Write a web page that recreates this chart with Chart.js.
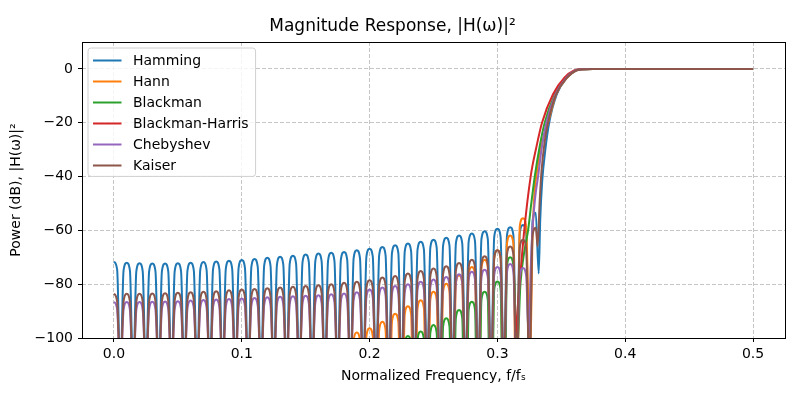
<!DOCTYPE html>
<html>
<head>
<meta charset="utf-8">
<title>Magnitude Response</title>
<script src="https://cdn.jsdelivr.net/npm/chart.js@4.4.0/dist/chart.umd.min.js"></script>
<style>
  html, body { margin: 0; padding: 0; background: #fff; }
</style>
</head>
<body>
<canvas id="responseChart" width="800" height="400"></canvas>
<script>
// window names / colours (matplotlib tab10)
const windowNames = ['Hamming', 'Hann', 'Blackman', 'Blackman-Harris', 'Chebyshev', 'Kaiser'];
const windowColors = ['#1f77b4', '#ff7f0e', '#2ca02c', '#d62728', '#9467bd', '#8c564b'];

const xTicks = [0, 0.1, 0.2, 0.3, 0.4, 0.5];
const yTicks = [-100, -80, -60, -40, -20, 0];

// stopband frequency grid (peak, shoulder, null, shoulder ...)
const freqGrid = [
  0, 0.0025, 0.005, 0.0075, 0.01, 0.0125, 0.015, 0.0175,
  0.02, 0.0225, 0.025, 0.0275, 0.03, 0.0325, 0.035, 0.0375,
  0.04, 0.0425, 0.045, 0.0475, 0.05, 0.0525, 0.055, 0.0575,
  0.06, 0.0625, 0.065, 0.0675, 0.07, 0.0725, 0.075, 0.0775,
  0.08, 0.0825, 0.085, 0.0875, 0.09, 0.0925, 0.095, 0.0975,
  0.1, 0.1025, 0.105, 0.1075, 0.11, 0.1125, 0.115, 0.1175,
  0.12, 0.1225, 0.125, 0.1275, 0.13, 0.1325, 0.135, 0.1375,
  0.14, 0.1425, 0.145, 0.1475, 0.15, 0.1525, 0.155, 0.1575,
  0.16, 0.1625, 0.165, 0.1675, 0.17, 0.1725, 0.175, 0.1775,
  0.18, 0.1825, 0.185, 0.1875, 0.19, 0.1925, 0.195, 0.1975,
  0.2, 0.2025, 0.205, 0.2075, 0.21, 0.2125, 0.215, 0.2175,
  0.22, 0.2225, 0.225, 0.2275, 0.23, 0.2325, 0.235, 0.2375,
  0.24, 0.2425, 0.245, 0.2475, 0.25, 0.2525, 0.255, 0.2575,
  0.26, 0.2625, 0.265, 0.2675, 0.27, 0.2725, 0.275, 0.2775,
  0.28, 0.2825, 0.285, 0.2875, 0.29, 0.2925, 0.295, 0.2975,
  0.3, 0.3025, 0.305, 0.3075, 0.31, 0.3125, 0.315, 0.3175,
  0.32, 0.3225, 0.325, 0.3275, 0.33
];

// Hamming
const hammingStop = [
  -71.6, -74.6, -115, -75.0, -72.0, -75.0, -115, -75.2,
  -72.2, -75.2, -115, -75.3, -72.3, -75.3, -115, -75.3,
  -72.3, -75.3, -115, -75.2, -72.2, -75.2, -115, -75.0,
  -72.0, -75.0, -115, -74.8, -71.8, -74.8, -115, -74.6,
  -71.6, -74.6, -115, -74.3, -71.3, -74.3, -115, -74.0,
  -71.0, -74.0, -115, -73.6, -70.6, -73.6, -115, -73.2,
  -70.2, -73.2, -115, -72.8, -69.8, -72.8, -115, -72.4,
  -69.4, -72.4, -115, -72.0, -69.0, -72.0, -115, -71.6,
  -68.6, -71.6, -115, -71.3, -68.3, -71.3, -115, -71.0,
  -68.0, -71.0, -115, -70.4, -67.4, -70.4, -115, -69.8,
  -66.8, -69.8, -115, -69.2, -66.2, -69.2, -115, -68.5,
  -65.5, -68.5, -115, -67.9, -64.9, -67.9, -115, -67.2,
  -64.2, -67.2, -115, -66.5, -63.5, -66.5, -115, -65.7,
  -62.7, -65.7, -115, -64.9, -61.9, -64.9, -115, -64.2,
  -61.2, -64.2, -115, -63.3, -60.3, -63.3, -115, -62.4,
  -59.4, -62.4, -115, -61.8, -58.8, -61.8, -115, -61.0,
  -58.0, -61.0, -115, -56.5,
  -53.5
];
const hammingTransFreq = [0.3323, 0.3335, 0.335, 0.3375, 0.3405, 0.3465, 0.3545, 0.3615, 0.368, 0.375, 0.4, 0.45, 0.5];
const hammingTransDb = [-76, -56, -42, -30, -20, -9.4, -3.2, -0.6, -0.1, 0, 0, 0, 0];

// Hann
const hannStop = [
  -130, -133, -150, -131, -128, -131, -150, -129,
  -126, -129, -150, -127, -124, -127, -150, -125,
  -122, -125, -150, -123, -120, -123, -150, -121.5,
  -118.5, -121.5, -150, -120, -117, -120, -150, -118.5,
  -115.5, -118.5, -150, -117, -114, -117, -150, -115.5,
  -112.5, -115.5, -150, -114, -111, -114, -150, -112.5,
  -109.5, -112.5, -150, -111, -108, -111, -150, -109.5,
  -106.5, -109.5, -150, -108, -105, -108, -150, -106.5,
  -103.5, -106.5, -150, -105, -102, -105, -150, -103.5,
  -100.5, -103.5, -150, -101, -98.0, -101, -150, -99.4,
  -96.4, -99.4, -150, -97, -94.0, -97, -150, -94,
  -91.0, -94, -150, -91.2, -88.2, -91.2, -150, -89,
  -86.0, -89, -150, -85.8, -82.8, -85.8, -150, -82.8,
  -79.8, -82.8, -150, -79.7, -76.7, -79.7, -150, -76.6,
  -73.6, -76.6, -150, -73.9, -70.9, -73.9, -150, -70.4,
  -67.4, -70.4, -150, -64.9, -61.9, -64.9, -150, -58.5,
  -55.5
];
const hannTransFreq = [0.3225, 0.3255, 0.3275, 0.329, 0.331, 0.3335, 0.3396, 0.346, 0.3545, 0.3615, 0.368, 0.375, 0.4, 0.45, 0.5];
const hannTransDb = [-58.5, -110, -62, -46, -38, -30, -20, -9.4, -3.2, -0.6, -0.1, 0, 0, 0, 0];

// Blackman
const blackmanStop = [
  -140, -143, -160, -142, -139, -142, -160, -140,
  -137, -140, -160, -138, -135, -138, -160, -136,
  -133, -136, -160, -134, -131, -134, -160, -132,
  -129, -132, -160, -130, -127, -130, -160, -128,
  -125, -128, -160, -126.5, -123.5, -126.5, -160, -125,
  -122, -125, -160, -123.5, -120.5, -123.5, -160, -122,
  -119, -122, -160, -120.5, -117.5, -120.5, -160, -119,
  -116, -119, -160, -117.5, -114.5, -117.5, -160, -116,
  -113, -116, -160, -114, -111, -114, -160, -112,
  -109, -112, -160, -110, -107, -110, -160, -108,
  -105, -108, -160, -106, -103, -106, -160, -104.2,
  -101.2, -104.2, -160, -102.3, -99.3, -102.3, -160, -100.6,
  -97.6, -100.6, -160, -98.2, -95.2, -98.2, -160, -95.7,
  -92.7, -95.7, -160, -92.6, -89.6, -92.6, -160, -89.5,
  -86.5, -89.5, -160, -85.8, -82.8, -85.8, -160, -82,
  -79.0, -82, -160, -73,
  -70.0
];
const blackmanTransFreq = [0.3125, 0.3155, 0.318, 0.321, 0.324, 0.3265, 0.3292, 0.333, 0.337, 0.345, 0.3535, 0.3608, 0.367, 0.374, 0.4, 0.45, 0.5];
const blackmanTransDb = [-73, -105, -80, -68, -60, -50, -40, -29, -20, -9.4, -3.2, -0.6, -0.1, 0, 0, 0, 0];

// Blackman-Harris
const harrisStop = [
  -150, -153, -175, -152, -149, -152, -175, -151,
  -148, -151, -175, -150, -147, -150, -175, -149,
  -146, -149, -175, -148, -145, -148, -175, -147,
  -144, -147, -175, -146, -143, -146, -175, -145,
  -142, -145, -175, -144, -141, -144, -175, -143,
  -140, -143, -175, -142, -139, -142, -175, -141,
  -138, -141, -175, -140, -137, -140, -175, -139,
  -136, -139, -175, -138, -135, -138, -175, -137,
  -134, -137, -175, -136, -133, -136, -175, -135,
  -132, -135, -175, -134, -131, -134, -175, -133,
  -130, -133, -175, -131.5, -128.5, -131.5, -175, -130,
  -127, -130, -175, -128.5, -125.5, -128.5, -175, -127,
  -124, -127, -175, -125, -122, -125, -175, -123,
  -120, -123, -175, -121, -118, -121, -175, -119,
  -116, -119, -175, -116,
  -113
];
const harrisTransFreq = [0.2925, 0.2975, 0.3025, 0.305, 0.309, 0.3115, 0.314, 0.317, 0.321, 0.326, 0.3305, 0.3349, 0.3435, 0.3526, 0.36, 0.366, 0.372, 0.4, 0.45, 0.5];
const harrisTransDb = [-116, -175, -115, -111, -130, -110, -100, -82, -60, -40, -29, -20, -9.4, -3.2, -0.6, -0.1, 0, 0, 0, 0];

// Chebyshev
const chebyshevStop = [
  -86.5, -89.5, -115, -89.6, -86.6, -89.6, -115, -89.6,
  -86.6, -89.6, -115, -89.5, -86.5, -89.5, -115, -89.4,
  -86.4, -89.4, -115, -89.3, -86.3, -89.3, -115, -89.1,
  -86.1, -89.1, -115, -88.9, -85.9, -88.9, -115, -88.7,
  -85.7, -88.7, -115, -88.5, -85.5, -88.5, -115, -88.3,
  -85.3, -88.3, -115, -88.1, -85.1, -88.1, -115, -87.9,
  -84.9, -87.9, -115, -87.7, -84.7, -87.7, -115, -87.5,
  -84.5, -87.5, -115, -87.3, -84.3, -87.3, -115, -87.1,
  -84.1, -87.1, -115, -86.7, -83.7, -86.7, -115, -86.5,
  -83.5, -86.5, -115, -86.0, -83.0, -86.0, -115, -85.0,
  -82.0, -85.0, -115, -84.2, -81.2, -84.2, -115, -83.7,
  -80.7, -83.7, -115, -83.0, -80.0, -83.0, -115, -82.1,
  -79.1, -82.1, -115, -81.3, -78.3, -81.3, -115, -80.3,
  -77.3, -80.3, -115, -79.3, -76.3, -79.3, -115, -78.4,
  -75.4, -78.4, -115, -77.6, -74.6, -77.6, -115, -76.6,
  -73.6, -76.6, -115, -75.5, -72.5, -75.5, -115, -77.0,
  -74.0
];
const chebyshevTransFreq = [0.3225, 0.3245, 0.326, 0.3274, 0.3295, 0.3318, 0.3345, 0.3383, 0.3455, 0.354, 0.361, 0.3675, 0.374, 0.4, 0.45, 0.5];
const chebyshevTransDb = [-77, -100, -75, -60, -48, -40, -30, -20, -9.4, -3.2, -0.6, -0.1, 0, 0, 0, 0];

// Kaiser
const kaiserStop = [
  -83.5, -86.5, -115, -86.6, -83.6, -86.6, -115, -86.6,
  -83.6, -86.6, -115, -86.5, -83.5, -86.5, -115, -86.4,
  -83.4, -86.4, -115, -86.2, -83.2, -86.2, -115, -86.0,
  -83.0, -86.0, -115, -85.8, -82.8, -85.8, -115, -85.6,
  -82.6, -85.6, -115, -85.3, -82.3, -85.3, -115, -85.0,
  -82.0, -85.0, -115, -84.8, -81.8, -84.8, -115, -84.5,
  -81.5, -84.5, -115, -84.2, -81.2, -84.2, -115, -84.0,
  -81.0, -84.0, -115, -83.7, -80.7, -83.7, -115, -83.4,
  -80.4, -83.4, -115, -83.0, -80.0, -83.0, -115, -82.5,
  -79.5, -82.5, -115, -82.1, -79.1, -82.1, -115, -81.5,
  -78.5, -81.5, -115, -80.5, -77.5, -80.5, -115, -80.0,
  -77.0, -80.0, -115, -79.0, -76.0, -79.0, -115, -78.1,
  -75.1, -78.1, -115, -77.2, -74.2, -77.2, -115, -76.3,
  -73.3, -76.3, -115, -75.1, -72.1, -75.1, -115, -73.9,
  -70.9, -73.9, -115, -72.6, -69.6, -72.6, -115, -70.4,
  -67.4, -70.4, -115, -69.0, -66.0, -69.0, -115, -66.5,
  -63.5, -66.5, -115, -62.0,
  -59.0
];
const kaiserTransFreq = [0.3315, 0.333, 0.3345, 0.337, 0.3396, 0.346, 0.3545, 0.3615, 0.368, 0.375, 0.4, 0.45, 0.5];
const kaiserTransDb = [-66, -50, -38, -27, -20, -9.4, -3.2, -0.6, -0.1, 0, 0, 0, 0];

const seriesStop = [hammingStop, hannStop, blackmanStop, harrisStop, chebyshevStop, kaiserStop];
const seriesTransFreq = [hammingTransFreq, hannTransFreq, blackmanTransFreq, harrisTransFreq, chebyshevTransFreq, kaiserTransFreq];
const seriesTransDb = [hammingTransDb, hannTransDb, blackmanTransDb, harrisTransDb, chebyshevTransDb, kaiserTransDb];

function toPoints(stop, transFreq, transDb) {
  const pts = stop.map((db, i) => ({ x: freqGrid[i], y: db }));
  transFreq.forEach((f, i) => pts.push({ x: f, y: transDb[i] }));
  return pts;
}

// box around the axes, like matplotlib spines
const axesFrame = {
  id: 'axesFrame',
  afterDatasetsDraw(chart) {
    const { ctx, chartArea: a } = chart;
    ctx.save();
    ctx.strokeStyle = '#000';
    ctx.lineWidth = 1;
    const l = Math.floor(a.left) + 0.5, t = Math.floor(a.top) + 0.5;
    const r = Math.floor(a.right) + 0.5, b = Math.floor(a.bottom) + 0.5;
    ctx.strokeRect(l, t, r - l, b - t);
    ctx.restore();
  }
};

// legend drawn inside the axes, upper left
const innerLegend = {
  id: 'innerLegend',
  afterDraw(chart) {
    const { ctx, chartArea: a } = chart;
    const sets = chart.data.datasets;
    ctx.save();
    ctx.font = '14px "DejaVu Sans"';
    let maxW = 0;
    sets.forEach(ds => { maxW = Math.max(maxW, ctx.measureText(ds.label).width); });
    const bx = a.left + 6, by = a.top + 6;
    const textX = bx + 45;
    const bw = textX - bx + maxW + 7;
    const rowH = 21;
    const bh = 11.7 * 2 + rowH * (sets.length - 1);
    const rad = 3;
    ctx.beginPath();
    ctx.moveTo(bx + rad, by);
    ctx.lineTo(bx + bw - rad, by);
    ctx.arcTo(bx + bw, by, bx + bw, by + rad, rad);
    ctx.lineTo(bx + bw, by + bh - rad);
    ctx.arcTo(bx + bw, by + bh, bx + bw - rad, by + bh, rad);
    ctx.lineTo(bx + rad, by + bh);
    ctx.arcTo(bx, by + bh, bx, by + bh - rad, rad);
    ctx.lineTo(bx, by + rad);
    ctx.arcTo(bx, by, bx + rad, by, rad);
    ctx.closePath();
    ctx.fillStyle = 'rgba(255,255,255,0.8)';
    ctx.fill();
    ctx.strokeStyle = '#d0d0d0';
    ctx.lineWidth = 1;
    ctx.stroke();
    sets.forEach((ds, i) => {
      const y = by + 12.5 + i * rowH;
      ctx.beginPath();
      ctx.strokeStyle = ds.borderColor;
      ctx.lineWidth = 2;
      ctx.moveTo(bx + 5, y);
      ctx.lineTo(bx + 33.5, y);
      ctx.stroke();
      ctx.fillStyle = '#000';
      ctx.textBaseline = 'middle';
      ctx.textAlign = 'left';
      ctx.fillText(ds.label, textX, y + 1);
    });
    ctx.restore();
  }
};

Chart.defaults.font.family = '"DejaVu Sans", sans-serif';
Chart.defaults.color = '#000';

const ctx = document.getElementById('responseChart');

new Chart(ctx, {
  type: 'line',
  data: {
    datasets: windowNames.map((name, i) => ({
      label: name,
      data: toPoints(seriesStop[i], seriesTransFreq[i], seriesTransDb[i]),
      borderColor: windowColors[i],
      backgroundColor: windowColors[i],
      borderWidth: 2,
      pointRadius: 0,
      fill: false,
      cubicInterpolationMode: 'monotone',
      borderJoinStyle: 'round',
      clip: 0,
      order: windowNames.length - i,
    })),
  },
  options: {
    responsive: false,
    animation: false,
    layout: { padding: { left: 0, right: 15, top: 0, bottom: 0 } },
    plugins: {
      legend: { display: false },
      tooltip: { enabled: false },
      title: {
        display: true,
        text: 'Magnitude Response, |H(\u03c9)|\u00b2',
        color: '#000',
        font: { size: 17, weight: 'normal' },
        padding: { top: 16, bottom: 5.6 },
      },
    },
    scales: {
      x: {
        type: 'linear',
        min: -0.025,
        max: 0.525,
        afterBuildTicks: (axis) => { axis.ticks = xTicks.map(v => ({ value: v })); },
        afterFit: (axis) => { axis.height = 62; },
        ticks: {
          autoSkip: false,
          maxRotation: 0,
          padding: 4,
          font: { size: 14 },
          callback: (v) => Number(v).toFixed(1),
        },
        grid: {
          color: '#c6c6c6',
          lineWidth: 1,
          tickColor: '#000',
          tickLength: 4,
          tickWidth: 1,
        },
        border: { display: false, dash: [4, 2] },
        title: {
          display: true,
          text: 'Normalized Frequency, f/f\u209b',
          font: { size: 14 },
          padding: { top: 0, bottom: 15.6 },
        },
      },
      y: {
        type: 'linear',
        min: -100,
        max: 10,
        afterBuildTicks: (axis) => { axis.ticks = yTicks.map(v => ({ value: v })); },
        afterFit: (axis) => { axis.width = 82; },
        ticks: {
          autoSkip: false,
          padding: 5,
          font: { size: 14 },
          callback: (v) => (v < 0 ? '\u2212' + Math.abs(v) : String(v)),
        },
        grid: {
          color: '#c6c6c6',
          lineWidth: 1,
          tickColor: '#000',
          tickLength: 4,
          tickWidth: 1,
        },
        border: { display: false, dash: [4, 2] },
        title: {
          display: true,
          text: 'Power (dB), |H(\u03c9)|\u00b2',
          font: { size: 14 },
          padding: { top: 7.6, bottom: 0 },
        },
      },
    },
  },
  plugins: [axesFrame, innerLegend],
});
</script>
</body>
</html>
